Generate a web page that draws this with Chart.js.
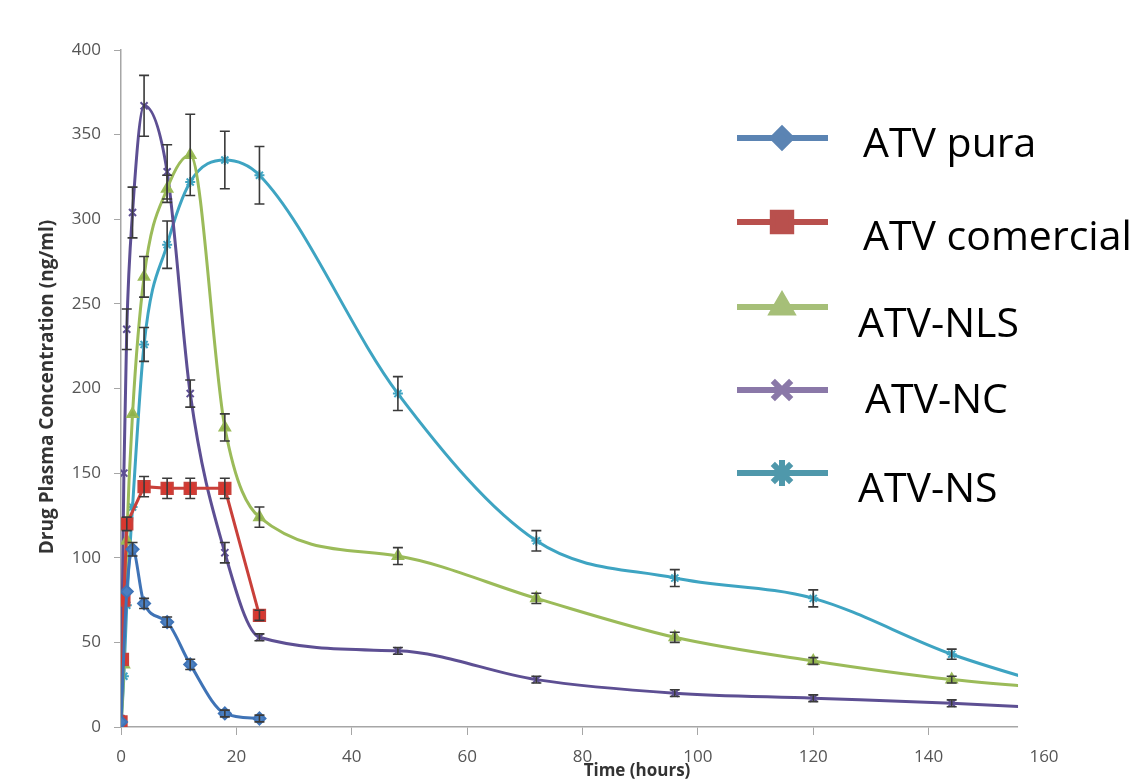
<!DOCTYPE html>
<html>
<head>
<meta charset="utf-8">
<script src="https://cdn.jsdelivr.net/npm/chart.js@4/dist/chart.umd.min.js"></script>
<style>
  html, body { margin: 0; padding: 0; background: #ffffff; }
  #grafico { display: block; }
</style>
</head>
<body>
<canvas id="grafico" width="1135" height="780"></canvas>
<script>
// datos (tiempo en horas, concentracion en ng/ml)
const tiemposPura = [0, 1, 2, 4, 8, 12, 18, 24];
const atvPura = [3, 80, 105, 73, 62, 37, 8, 5];
const errPura = [0, 0, 4, 3, 3, 3, 2, 2];

const tiemposComercial = [0, 0.25, 0.5, 1, 4, 8, 12, 18, 24];
const atvComercial = [3, 40, 75, 120, 142, 141, 141, 141, 66];
const errComercial = [0, 0, 0, 4, 6, 6, 6, 6, 3];

const tiemposLargos = [0, 0.5, 1, 2, 4, 8, 12, 18, 24, 48, 72, 96, 120, 144, 168];
const atvNLS = [0, 37, 110, 185, 266, 318, 338, 177, 124, 101, 76, 53, 39, 28, 21];
const errNLS = [0, 0, 0, 0, 12, 8, 24, 8, 6, 5, 3, 3, 2, 2, 0];
const atvNC = [5, 150, 235, 304, 367, 328, 197, 103, 53, 45, 28, 20, 17, 14, 10];
const errNC = [0, 0, 12, 15, 18, 16, 8, 6, 2, 2, 2, 2, 2, 2, 0];
const atvNS = [0, 30, 72, 130, 226, 285, 322, 335, 326, 197, 110, 88, 76, 43, 18];
const errNS = [0, 0, 0, 0, 10, 14, 0, 17, 17, 10, 6, 5, 5, 3, 0];

const etiquetas = ['ATV pura', 'ATV comercial', 'ATV-NLS', 'ATV-NC', 'ATV-NS'];
const ticksX = [0, 20, 40, 60, 80, 100, 120, 140, 160];
const ticksY = [0, 50, 100, 150, 200, 250, 300, 350, 400];
const tituloY = 'Drug Plasma Concentration (ng/ml)';
const tituloX = 'Time (hours)';
const corteX = 155.5; // la figura original esta recortada aqui

function armarPuntos(tiempos, valores) {
    return tiempos.map((t, i) => ({ x: t, y: valores[i] }));
}

const series = [
    { label: etiquetas[0], data: armarPuntos(tiemposPura, atvPura), errores: errPura, tension: 0.4,
      borderColor: '#3f73b6', backgroundColor: '#4a7fc1', pointStyle: 'rectRot', pointRadius: 6,
      legendColor: '#5b84b3', legendRadius: 9 },
    { label: etiquetas[1], data: armarPuntos(tiemposComercial, atvComercial), errores: errComercial, tension: 0,
      borderColor: '#c9403a', backgroundColor: '#d8372f', pointStyle: 'rect', pointRadius: 8,
      legendColor: '#b9504d', legendRadius: 13 },
    { label: etiquetas[2], data: armarPuntos(tiemposLargos, atvNLS), errores: errNLS, tension: 0.4,
      borderColor: '#9bbb59', backgroundColor: '#8fb24a', pointStyle: 'triangle', pointRadius: 6,
      legendColor: '#a6bf78', legendRadius: 11 },
    { label: etiquetas[3], data: armarPuntos(tiemposLargos, atvNC), errores: errNC, tension: 0.4,
      borderColor: '#5d4f93', backgroundColor: '#7a68aa', pointStyle: 'crossRot', pointRadius: 5,
      legendColor: '#8a78a8', legendRadius: 13 },
    { label: etiquetas[4], data: armarPuntos(tiemposLargos, atvNS), errores: errNS, tension: 0.4,
      borderColor: '#3ea4c2', backgroundColor: '#3ea4c2', pointStyle: 'star', pointRadius: 5,
      legendColor: '#4f98ab', legendRadius: 13 }
];

// barras de error en negro
const barrasError = {
    id: 'barrasError',
    afterDatasetsDraw(chart) {
        const ctx = chart.ctx;
        const x = chart.scales.x, y = chart.scales.y;
        ctx.save();
        ctx.strokeStyle = '#3a3a3a';
        ctx.lineWidth = 1.6;
        chart.data.datasets.forEach(ds => {
            ds.data.forEach((p, i) => {
                const e = ds.errores[i];
                if (!e || p.x > corteX) return;
                const px = x.getPixelForValue(p.x);
                const y1 = y.getPixelForValue(p.y + e);
                const y2 = y.getPixelForValue(p.y - e);
                ctx.beginPath();
                ctx.moveTo(px, y1); ctx.lineTo(px, y2);
                ctx.moveTo(px - 5, y1); ctx.lineTo(px + 5, y1);
                ctx.moveTo(px - 5, y2); ctx.lineTo(px + 5, y2);
                ctx.stroke();
            });
        });
        ctx.restore();
    }
};

// tapa blanca del recorte, titulos de ejes y leyenda grande
const decoracion = {
    id: 'decoracion',
    afterDraw(chart) {
        const ctx = chart.ctx;
        const area = chart.chartArea;
        const xc = chart.scales.x.getPixelForValue(corteX);
        ctx.save();
        ctx.fillStyle = '#ffffff';
        ctx.fillRect(xc, area.top - 10, chart.width - xc, area.bottom - area.top + 20);

        ctx.fillStyle = '#333333';
        ctx.textAlign = 'center';
        ctx.textBaseline = 'middle';
        ctx.font = 'bold 17px "Open Sans"';
        ctx.fillText(tituloX, 637, 771);
        ctx.translate(48, 387);
        ctx.rotate(-Math.PI / 2);
        ctx.font = 'bold 19px "Open Sans"';
        ctx.fillText(tituloY, 0, 0);
        ctx.restore();

        const filas = [138, 222, 307, 390, 473];
        const textoX = [863, 863, 858, 865, 858];
        const base = [157, 250, 337, 413, 502];
        ctx.save();
        chart.data.datasets.forEach((ds, i) => {
            ctx.strokeStyle = ds.legendColor;
            ctx.lineWidth = 6;
            ctx.beginPath();
            ctx.moveTo(737, filas[i]);
            ctx.lineTo(828, filas[i]);
            ctx.stroke();
            ctx.fillStyle = ds.legendColor;
            Chart.helpers.drawPoint(ctx, {
                pointStyle: ds.pointStyle, radius: ds.legendRadius, rotation: 0,
                borderWidth: 2.5, borderColor: ds.legendColor
            }, 782, filas[i]);
            ctx.fillStyle = '#000000';
            ctx.font = '41px "Open Sans"';
            ctx.textAlign = 'left';
            ctx.textBaseline = 'alphabetic';
            ctx.fillText(ds.label, textoX[i], base[i]);
        });
        ctx.restore();
    }
};

new Chart(document.getElementById('grafico'), {
    type: 'line',
    data: {
        datasets: series.map(s => Object.assign({}, s, {
            borderWidth: 3,
            cubicInterpolationMode: s.tension > 0 ? 'monotone' : 'default',
            pointBorderColor: s.borderColor,
            pointBackgroundColor: s.backgroundColor,
            pointBorderWidth: 2,
            fill: false
        }))
    },
    options: {
        responsive: false,
        animation: false,
        devicePixelRatio: 1,
        layout: { padding: { top: 50, right: 91, bottom: 0, left: 0 } },
        plugins: { legend: { display: false }, tooltip: { enabled: false } },
        scales: {
            x: {
                type: 'linear', min: 0, max: 160,
                afterFit: s => { s.height = 53; },
                afterBuildTicks: s => { s.ticks = ticksX.map(v => ({ value: v })); },
                border: { display: true, color: '#a6a6a6', width: 1.5 },
                grid: { display: true, drawOnChartArea: false, drawTicks: true, tickLength: 8, color: '#a6a6a6' },
                ticks: { padding: 12, color: '#555555', font: { family: 'Open Sans', size: 17 } }
            },
            y: {
                type: 'linear', min: 0, max: 400,
                afterFit: s => { s.width = 121; },
                afterBuildTicks: s => { s.ticks = ticksY.map(v => ({ value: v })); },
                border: { display: true, color: '#a6a6a6', width: 1.5 },
                grid: { display: true, drawOnChartArea: false, drawTicks: true, tickLength: 7, color: '#a6a6a6' },
                ticks: { padding: 13, color: '#555555', font: { family: 'Open Sans', size: 17 } }
            }
        }
    },
    plugins: [barrasError, decoracion]
});
</script>
</body>
</html>
